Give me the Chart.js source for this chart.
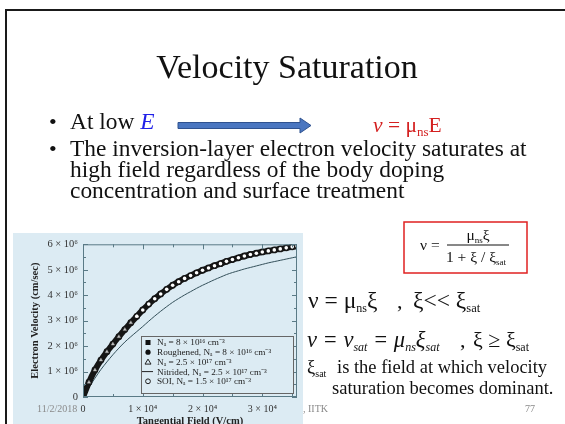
<!DOCTYPE html>
<html>
<head>
<meta charset="utf-8">
<script src="https://cdn.jsdelivr.net/npm/chart.js@4.4.1/dist/chart.umd.min.js"></script>
<style>
  html, body { margin: 0; padding: 0; background: #fff; overflow: hidden; }
  #slide { position: relative; width: 565px; height: 424px; overflow: hidden; background: #fff; }
  #plotBox { position: absolute; left: 13px; top: 233px; width: 290px; height: 197px; background: #dcebf3; }
  #slideText { position: absolute; left: 0; top: 0; }
  svg text { font-family: "Liberation Serif", "Times New Roman", serif; fill: #111; }
</style>
</head>
<body>
<div id="slide">
  <div id="plotBox"><canvas id="velChart" width="290" height="197"></canvas></div>
  <svg id="slideText" width="565" height="424">
    <!-- slide frame -->
    <line x1="6" y1="9" x2="6" y2="424" stroke="#1a1a1a" stroke-width="2"/>
    <line x1="5" y1="10" x2="565" y2="10" stroke="#1a1a1a" stroke-width="2"/>

    <text x="287" y="78" text-anchor="middle" font-size="34">Velocity Saturation</text>

    <text x="49" y="129" font-size="22">•</text>
    <text x="70" y="129" font-size="23.4">At low <tspan font-style="italic" style="fill:#2020e8">E</tspan></text>
    <polygon points="178,122.5 300,122.5 300,118 311,125.5 300,133 300,128.5 178,128.5"
             fill="#4a76c0" stroke="#2f528f" stroke-width="1"/>
    <text x="373" y="132" font-size="21.5" style="fill:#d42020"><tspan font-style="italic" style="fill:#d42020">v</tspan> = μ<tspan font-size="13" dy="4" style="fill:#d42020">ns</tspan><tspan dy="-4" style="fill:#d42020">E</tspan></text>

    <text x="49" y="155.5" font-size="22">•</text>
    <text x="70" y="155.5" font-size="23.4">The inversion-layer electron velocity saturates at</text>
    <text x="70" y="176.5" font-size="23.4">high field regardless of the body doping</text>
    <text x="70" y="198" font-size="23.4">concentration and surface treatment</text>

    <!-- boxed mobility model -->
    <rect x="404" y="222" width="123" height="51" fill="#fff" stroke="#e02020" stroke-width="1.5"/>
    <text x="420" y="250" font-size="15.5">ν =</text>
    <text x="478" y="240" font-size="15.5" text-anchor="middle">μ<tspan font-size="9" dy="3">ns</tspan><tspan dy="-3">ξ</tspan></text>
    <line x1="447" y1="245" x2="509" y2="245" stroke="#111" stroke-width="1"/>
    <text x="476" y="262" font-size="15.5" text-anchor="middle">1 + ξ / ξ<tspan font-size="9" dy="3">sat</tspan></text>

    <text x="308" y="308" font-size="23.5">ν = μ<tspan font-size="12" dy="4">ns</tspan><tspan dy="-4">ξ</tspan></text>
    <text x="397" y="308" font-size="22">,</text>
    <text x="413" y="308" font-size="23.5">ξ&lt;&lt;   ξ<tspan font-size="12.5" dy="4">sat</tspan></text>

    <text x="307" y="347" font-size="22.5" font-style="italic">ν = ν<tspan font-size="12" dy="4">sat</tspan><tspan dy="-4"> = μ</tspan><tspan font-size="12" dy="4">ns</tspan><tspan dy="-4">ξ</tspan><tspan font-size="12" dy="4">sat</tspan></text>
    <text x="460" y="347" font-size="22">,</text>
    <text x="473" y="347" font-size="22">ξ ≥ ξ<tspan font-size="12" dy="4">sat</tspan></text>

    <text x="307" y="373" font-size="18.5">ξ<tspan font-size="10" dy="4">sat</tspan></text>
    <text x="337" y="373" font-size="18.5">is the field at which velocity</text>
    <text x="332" y="394" font-size="18.5">saturation becomes dominant.</text>

    <!-- footer -->
    <text x="37" y="412" font-size="10" style="fill:#8a8a8a">11/2/2018</text>
    <text x="303" y="412" font-size="10" style="fill:#8a8a8a">, IITK</text>
    <text x="525" y="412" font-size="10" style="fill:#8a8a8a">77</text>
  </svg>
</div>
<script>
// tangential field, V/cm
const fieldPts = [0, 1000, 2000, 3000, 4000, 5000, 6000, 7000, 8000, 9000,
  10000, 11000, 12000, 13000, 14000, 15000, 16000, 17000, 18000, 19000,
  20000, 21000, 22000, 23000, 24000, 25000, 26000, 27000, 28000, 29000,
  30000, 31000, 32000, 33000, 34000, 35000, 35800];
// electron velocity, 10^6 cm/s : bulk / roughened / SOI devices (they overlap)
const vUpper = [0, 0.58, 1.06, 1.45, 1.78, 2.08, 2.37, 2.65, 2.92, 3.17,
  3.42, 3.65, 3.86, 4.05, 4.23, 4.39, 4.53, 4.66, 4.77, 4.88,
  4.98, 5.07, 5.16, 5.24, 5.33, 5.40, 5.47, 5.54, 5.60, 5.65,
  5.70, 5.74, 5.78, 5.82, 5.86, 5.90, 5.93];
// nitrided surface, 10^6 cm/s
const vNitrided = [0, 0.38, 0.74, 1.08, 1.38, 1.66, 1.92, 2.16, 2.37, 2.57,
  2.77, 2.98, 3.18, 3.37, 3.55, 3.72, 3.87, 4.01, 4.14, 4.27,
  4.39, 4.50, 4.61, 4.71, 4.81, 4.89, 4.96, 5.03, 5.09, 5.15,
  5.21, 5.27, 5.32, 5.37, 5.42, 5.47, 5.51];

// tick positions (majors get a label) and their labels
const xTickVals = [0, 5000, 10000, 15000, 20000, 25000, 30000, 35000];
const xMajor = [0, 10000, 20000, 30000];
const xMajorLabels = ['0', '1 × 10⁴', '2 × 10⁴', '3 × 10⁴'];
const yTickVals = [0, 0.5, 1, 1.5, 2, 2.5, 3, 3.5, 4, 4.5, 5, 5.5, 6];
const yMajorLabels = ['0', '1 × 10⁶', '2 × 10⁶', '3 × 10⁶', '4 × 10⁶', '5 × 10⁶', '6 × 10⁶'];

const pts = (vals, from, to) =>
  fieldPts.slice(from, to).map((x, i) => ({ x: x, y: vals[from + i] }));

Chart.defaults.font.family = '"Liberation Serif", "Times New Roman", serif';
Chart.defaults.color = '#333';

// inward tick marks on all four sides + plot frame
const frameTicks = {
  id: 'frameTicks',
  afterDatasetsDraw(chart) {
    const { ctx, chartArea: a, scales: { x, y } } = chart;
    ctx.save();
    ctx.strokeStyle = '#5a7a86';
    ctx.lineWidth = 1;
    ctx.strokeRect(a.left + 0.5, a.top + 0.5, a.right - a.left - 1, a.bottom - a.top - 1);
    ctx.beginPath();
    y.ticks.forEach(t => {
      const py = Math.round(y.getPixelForValue(t.value)) + 0.5;
      const len = Number.isInteger(t.value) ? 5 : 3;
      ctx.moveTo(a.left, py); ctx.lineTo(a.left + len, py);
      ctx.moveTo(a.right, py); ctx.lineTo(a.right - len, py);
    });
    x.ticks.forEach(t => {
      const px = Math.round(x.getPixelForValue(t.value)) + 0.5;
      const len = xMajor.includes(t.value) ? 5 : 3;
      ctx.moveTo(px, a.bottom); ctx.lineTo(px, a.bottom - len);
      ctx.moveTo(px, a.top); ctx.lineTo(px, a.top + len);
    });
    ctx.stroke();
    ctx.restore();
  }
};

// legend box sitting in the lower right of the plot
const boxLegend = {
  id: 'boxLegend',
  afterDraw(chart) {
    const { ctx, chartArea: a } = chart;
    const w = 152, h = 57;
    const left = a.right - w - 4, top = a.bottom - h - 4;
    ctx.save();
    ctx.fillStyle = '#dcebf3';
    ctx.strokeStyle = '#666';
    ctx.lineWidth = 1;
    ctx.fillRect(left, top, w, h);
    ctx.strokeRect(left + 0.5, top + 0.5, w, h);
    ctx.font = '9.2px "Liberation Serif", serif';
    ctx.textBaseline = 'middle';
    chart.data.datasets.slice().sort((p, q) => p.legendRow - q.legendRow).forEach((ds, i) => {
      const cy = top + 6.5 + i * 9.7;
      const cx = left + 7;
      ctx.fillStyle = '#111';
      ctx.strokeStyle = '#222';
      ctx.beginPath();
      if (ds.legendSymbol === 'square') {
        ctx.fillRect(cx - 2.5, cy - 2.5, 5, 5);
      } else if (ds.legendSymbol === 'dot') {
        ctx.arc(cx, cy, 2.6, 0, Math.PI * 2); ctx.fill();
      } else if (ds.legendSymbol === 'triangle') {
        ctx.moveTo(cx, cy - 2.8); ctx.lineTo(cx + 3, cy + 2.2); ctx.lineTo(cx - 3, cy + 2.2); ctx.closePath(); ctx.stroke();
      } else if (ds.legendSymbol === 'line') {
        ctx.moveTo(cx - 6, cy); ctx.lineTo(cx + 5, cy); ctx.stroke();
      } else {
        ctx.arc(cx, cy, 2.4, 0, Math.PI * 2); ctx.stroke();
      }
      ctx.fillStyle = '#222';
      ctx.fillText(ds.label, left + 16, cy + 0.5);
    });
    ctx.restore();
  }
};

new Chart(document.getElementById('velChart'), {
  type: 'scatter',
  data: {
    datasets: [
      {
        label: 'SOI, Nₐ = 1.5 × 10¹⁷ cm⁻³',
        legendSymbol: 'ring', legendRow: 4, order: 0,
        data: pts(vUpper, 9, fieldPts.length),
        showLine: false,
        pointRadius: 1.8,
        pointBackgroundColor: '#ffffff',
        pointBorderWidth: 0
      },
      {
        label: 'Nₐ = 2.5 × 10¹⁷ cm⁻³',
        legendSymbol: 'triangle', legendRow: 2, order: 1,
        data: pts(vUpper, 0, 10),
        showLine: false,
        pointStyle: 'triangle',
        pointRadius: 2,
        pointBackgroundColor: '#cfcfcf',
        pointBorderColor: '#8a8a8a',
        pointBorderWidth: 0.5
      },
      {
        label: 'Roughened, Nₐ = 8 × 10¹⁶ cm⁻³',
        legendSymbol: 'dot', legendRow: 1, order: 2,
        data: pts(vUpper, 0, fieldPts.length),
        showLine: false,
        pointRadius: 3.4,
        pointBackgroundColor: '#151515',
        pointBorderWidth: 0
      },
      {
        label: 'Nₐ = 8 × 10¹⁶ cm⁻³',
        legendSymbol: 'square', legendRow: 0, order: 3,
        data: pts(vUpper, 0, fieldPts.length),
        showLine: true,
        borderColor: '#151515',
        borderWidth: 6,
        pointRadius: 0,
        tension: 0.3
      },
      {
        label: 'Nitrided, Nₐ = 2.5 × 10¹⁷ cm⁻³',
        legendSymbol: 'line', legendRow: 3, order: 4,
        data: pts(vNitrided, 0, fieldPts.length),
        showLine: true,
        borderColor: '#34505a',
        borderWidth: 1,
        pointRadius: 0,
        tension: 0.3
      }
    ]
  },
  options: {
    responsive: false,
    animation: false,
    devicePixelRatio: 1,
    layout: { padding: { left: 14, right: 6, top: 11, bottom: 0 } },
    plugins: { legend: { display: false }, tooltip: { enabled: false } },
    scales: {
      x: {
        type: 'linear',
        min: 0, max: 35800,
        grid: { display: false, drawTicks: false },
        border: { display: false },
        afterBuildTicks: s => { s.ticks = xTickVals.map(v => ({ value: v })); },
        ticks: {
          autoSkip: false, maxRotation: 0, padding: 6,
          font: { size: 10 }, color: '#333',
          callback: v => { const i = xMajor.indexOf(v); return i >= 0 ? xMajorLabels[i] : ''; }
        },
        title: { display: true, text: 'Tangential Field (V/cm)', font: { size: 10.5, weight: 'bold' }, color: '#222', padding: 2 },
        afterFit: s => { s.height = 33; }
      },
      y: {
        min: 0, max: 6,
        grid: { display: false, drawTicks: false },
        border: { display: false },
        afterBuildTicks: s => { s.ticks = yTickVals.map(v => ({ value: v })); },
        ticks: {
          autoSkip: false, padding: 5,
          font: { size: 10.5 }, color: '#333',
          callback: v => Number.isInteger(v) ? yMajorLabels[v] : ''
        },
        title: { display: true, text: 'Electron Velocity (cm/sec)', font: { size: 10.5, weight: 'bold' }, color: '#222', padding: 2 },
        afterFit: s => { s.width = 56; }
      }
    }
  },
  plugins: [frameTicks, boxLegend]
});
</script>
</body>
</html>
